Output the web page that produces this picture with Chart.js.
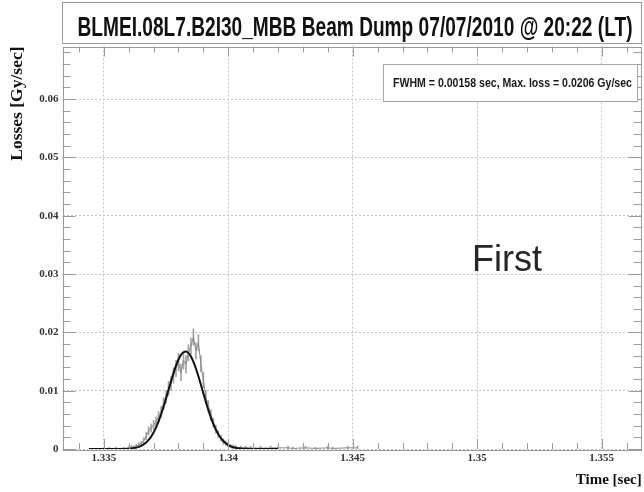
<!DOCTYPE html>
<html><head><meta charset="utf-8">
<script src="https://cdn.jsdelivr.net/npm/chart.js@4.4.1/dist/chart.umd.min.js"></script>
<style>html,body{margin:0;padding:0;background:#fff;}#wrap{position:relative;width:644px;height:492px;}</style>
</head><body><div id="wrap"><canvas id="c" width="644" height="492"></canvas></div>
<script>
const chartTitle = "BLMEI.08L7.B2I30_MBB Beam Dump 07/07/2010 @ 20:22 (LT)";
const infoText = "FWHM = 0.00158 sec, Max. loss = 0.0206 Gy/sec";
const noteText = "First";
const xAxisTitle = "Time [sec]";
const yAxisTitle = "Losses [Gy/sec]";

const xTickValues = [1.335, 1.34, 1.345, 1.35, 1.355];
const xTickLabels = ["1.335", "1.34", "1.345", "1.35", "1.355"];
const yTickValues = [0, 0.01, 0.02, 0.03, 0.04, 0.05, 0.06];
const yTickLabels = ["0", "0.01", "0.02", "0.03", "0.04", "0.05", "0.06"];
const xRange = [1.33334, 1.35661];
const yRange = [0, 0.0690];

// measured losses (gray) with error bars
const dataTimes = [1.3352,1.3355,1.3358,1.3360,1.3361,1.3362,1.3363,1.3364,1.3365,1.3366,1.3367,1.3368,1.3369,1.3370,1.3371,1.3372,1.3373,1.3374,1.3375,1.3376,1.3377,1.3378,1.3379,1.3380,1.3381,1.3382,1.3383,1.3384,1.3385,1.3386,1.3387,1.3388,1.3389,1.3390,1.3391,1.3392,1.3393,1.3394,1.3395,1.3396,1.3397,1.3398,1.3399,1.3400,1.3401,1.3402,1.3403,1.3405,1.3407,1.3409,1.3411,1.3413,1.3415,1.3417,1.3420,1.3424,1.3426,1.3431,1.3435,1.3440,1.3442,1.3448,1.3452];
const dataLoss = [0.0001,0.0001,0.0001,0.0002,0.0003,0.0003,0.0005,0.0007,0.0009,0.0014,0.0022,0.0031,0.0036,0.0041,0.0047,0.0055,0.0064,0.0078,0.0089,0.0104,0.0112,0.0126,0.0138,0.0149,0.0131,0.0152,0.0145,0.0165,0.0176,0.0192,0.0168,0.0182,0.0146,0.0118,0.0089,0.0073,0.0058,0.0045,0.0034,0.0025,0.0019,0.0013,0.0010,0.0007,0.0005,0.0004,0.0003,0.0002,0.0002,0.0002,0.0001,0.0002,0.0001,0.0002,0.0002,0.0002,0.0001,0.0002,0.0001,0.0002,0.0001,0.0002,0.0002];
const dataErr = [0.0002,0.0002,0.0002,0.0002,0.0003,0.0003,0.0003,0.0004,0.0004,0.0005,0.0006,0.0007,0.0007,0.0008,0.0008,0.0009,0.0009,0.0010,0.0011,0.0012,0.0012,0.0013,0.0014,0.0015,0.0014,0.0015,0.0015,0.0014,0.0014,0.0014,0.0014,0.0014,0.0014,0.0013,0.0011,0.0010,0.0009,0.0008,0.0007,0.0006,0.0005,0.0005,0.0004,0.0004,0.0003,0.0003,0.0003,0.0003,0.0003,0.0003,0.0002,0.0003,0.0002,0.0003,0.0003,0.0003,0.0002,0.0003,0.0002,0.0003,0.0002,0.0003,0.0003];

// gaussian fit curve (black)
const fitTimes = [1.3344,1.3350,1.3355,1.3358,1.3360,1.3361,1.3362,1.3363,1.3364,1.3365,1.3366,1.3367,1.3368,1.3369,1.3370,1.3371,1.3372,1.3373,1.3374,1.3375,1.3376,1.3377,1.3378,1.3379,1.3380,1.3381,1.3382,1.3383,1.3384,1.3385,1.3386,1.3387,1.3388,1.3389,1.3390,1.3391,1.3392,1.3393,1.3394,1.3395,1.3396,1.3397,1.3398,1.3399,1.3400,1.3401,1.3402,1.3403,1.3404,1.3405,1.3407,1.3410,1.3415,1.3420];
const fitLoss = [0,0,0.000004,0.00002,0.00006,0.0001,0.000155,0.00024,0.00037,0.00054,0.00079,0.00112,0.00156,0.00213,0.00284,0.00371,0.00473,0.00591,0.00723,0.00865,0.01013,0.01161,0.01302,0.01428,0.01535,0.01613,0.01658,0.0167,0.01644,0.01585,0.01494,0.0138,0.01247,0.01102,0.00953,0.00807,0.00669,0.00542,0.0043,0.00334,0.00254,0.00189,0.00137,0.00098,0.00068,0.00046,0.00031,0.0002,0.00013,0.00008,0.00003,0,0,0];

const AXIS_COLOR = '#9a9a9a';

const decor = {
  id: 'decor',
  beforeDraw(chart) {
    const ctx = chart.ctx;
    ctx.save();
    ctx.fillStyle = '#fff';
    ctx.fillRect(0, 0, chart.width, chart.height);
    ctx.restore();
  },
  afterDraw(chart) {
    const ctx = chart.ctx;
    const a = chart.chartArea;
    const xs = chart.scales.x, ys = chart.scales.y;
    ctx.save();
    // frame
    ctx.strokeStyle = AXIS_COLOR;
    ctx.lineWidth = 1;
    ctx.strokeRect(Math.round(a.left) + 0.5, Math.round(a.top) + 0.5, Math.round(a.right - a.left) - 1, Math.round(a.bottom - a.top));
    // ticks (inward, ROOT style)
    ctx.beginPath();
    const xMajor = 10, xMinor = 6, yMajor = 13, yMinor = 8;
    for (let i = 0; i <= 30; i++) {
      const v = 1.333 + i * 0.001;
      if (v < xRange[0] || v > xRange[1]) continue;
      const isMaj = xTickValues.some(t => Math.abs(t - v) < 1e-7);
      const len = isMaj ? xMajor : xMinor;
      const px = Math.round(xs.getPixelForValue(v)) + 0.5;
      ctx.moveTo(px, a.bottom); ctx.lineTo(px, a.bottom - len);
      ctx.moveTo(px, a.top); ctx.lineTo(px, a.top + len);
    }
    for (let i = 0; i <= 40; i++) {
      const v = i * 0.002;
      if (v > yRange[1]) continue;
      const isMaj = yTickValues.some(t => Math.abs(t - v) < 1e-9);
      const len = isMaj ? yMajor : yMinor;
      const py = Math.round(ys.getPixelForValue(v)) + 0.5;
      ctx.moveTo(a.left, py); ctx.lineTo(a.left + len, py);
      ctx.moveTo(a.right, py); ctx.lineTo(a.right - len, py);
    }
    ctx.stroke();

    // title box
    ctx.strokeStyle = '#9a9a9a';
    ctx.strokeRect(62.5, 2.5, 579, 41);
    ctx.fillStyle = '#111';
    ctx.font = 'bold 27px "Liberation Sans", Arial, sans-serif';
    ctx.textAlign = 'center';
    ctx.textBaseline = 'alphabetic';
    let w = ctx.measureText(chartTitle).width;
    ctx.save();
    ctx.translate(355, 36);
    ctx.scale(555 / w, 1);
    ctx.fillText(chartTitle, 0, 0);
    ctx.restore();

    // info box
    ctx.fillStyle = '#fff';
    ctx.strokeStyle = '#a8a8a8';
    ctx.fillRect(383.5, 64.5, 254, 37);
    ctx.strokeRect(383.5, 64.5, 254, 37);
    ctx.fillStyle = '#1a1a1a';
    ctx.font = 'bold 12px "Liberation Sans", Arial, sans-serif';
    ctx.textAlign = 'left';
    w = ctx.measureText(infoText).width;
    ctx.save();
    ctx.translate(393, 87);
    ctx.scale(239 / w, 1);
    ctx.fillText(infoText, 0, 0);
    ctx.restore();

    // note
    ctx.fillStyle = '#262626';
    ctx.font = '36px "Liberation Sans", Arial, sans-serif';
    ctx.fillText(noteText, 472, 271);
    ctx.restore();
  }
};

const serifBold = { family: '"Liberation Serif", "Times New Roman", serif', weight: 'bold', size: 11 };

new Chart(document.getElementById('c'), {
  type: 'line',
  data: {
    datasets: [
      {
        label: 'fit',
        data: fitTimes.map((t, i) => ({ x: t, y: fitLoss[i] })),
        borderColor: '#111',
        borderWidth: 2,
        pointRadius: 0,
        cubicInterpolationMode: 'monotone',
        fill: false,
        order: 0
      },
      {
        label: 'data',
        data: dataTimes.map((t, i) => ({ x: t, y: dataLoss[i] })),
        borderColor: '#8c8c8c',
        borderWidth: 1,
        pointRadius: 0,
        tension: 0,
        fill: false,
        order: 1
      },
      {
        type: 'bar',
        label: 'errors',
        data: dataTimes.map((t, i) => ({ x: t, y: [dataLoss[i] - dataErr[i], dataLoss[i] + dataErr[i]] })),
        backgroundColor: '#a4a4a4',
        borderWidth: 0,
        barThickness: 1,
        grouped: false,
        order: 2
      }
    ]
  },
  options: {
    responsive: false,
    animation: false,
    devicePixelRatio: 1,
    layout: { padding: { top: 46.5, right: 2.3, left: 0, bottom: 0 } },
    plugins: { legend: { display: false }, tooltip: { enabled: false }, title: { display: false } },
    scales: {
      x: {
        type: 'linear',
        min: xRange[0], max: xRange[1],
        offset: false,
        afterBuildTicks: s => { s.ticks = xTickValues.map(v => ({ value: v })); },
        afterFit: s => { s.height = 43; },
        ticks: {
          autoSkip: false, maxRotation: 0, padding: 3,
          font: serifBold, color: '#333',
          callback: (v) => { const k = xTickValues.findIndex(t => Math.abs(t - v) < 1e-9); return k >= 0 ? xTickLabels[k] : ''; }
        },
        grid: { color: '#c4c4c4', lineWidth: 1, drawTicks: false, offset: false },
        border: { display: false, dash: [2, 2] },
        title: {
          display: true, text: xAxisTitle, align: 'end', color: '#111',
          font: { family: '"Liberation Serif", "Times New Roman", serif', weight: 'bold', size: 15 },
          padding: { top: 0, bottom: 3 }
        }
      },
      y: {
        type: 'linear',
        min: yRange[0], max: yRange[1],
        afterBuildTicks: s => { s.ticks = yTickValues.map(v => ({ value: v })); },
        afterFit: s => { s.width = 62.5; },
        ticks: {
          autoSkip: false, padding: 4,
          font: serifBold, color: '#333',
          callback: (v) => { const k = yTickValues.findIndex(t => Math.abs(t - v) < 1e-9); return k >= 0 ? yTickLabels[k] : ''; }
        },
        grid: { color: '#c4c4c4', lineWidth: 1, drawTicks: false },
        border: { display: false, dash: [2, 2] },
        title: {
          display: true, text: yAxisTitle, align: 'end', color: '#111',
          font: { family: '"Liberation Serif", "Times New Roman", serif', weight: 'bold', size: 17.5 },
          padding: { top: 7, bottom: 0 }
        }
      }
    }
  },
  plugins: [decor]
});
</script>
</body></html>
